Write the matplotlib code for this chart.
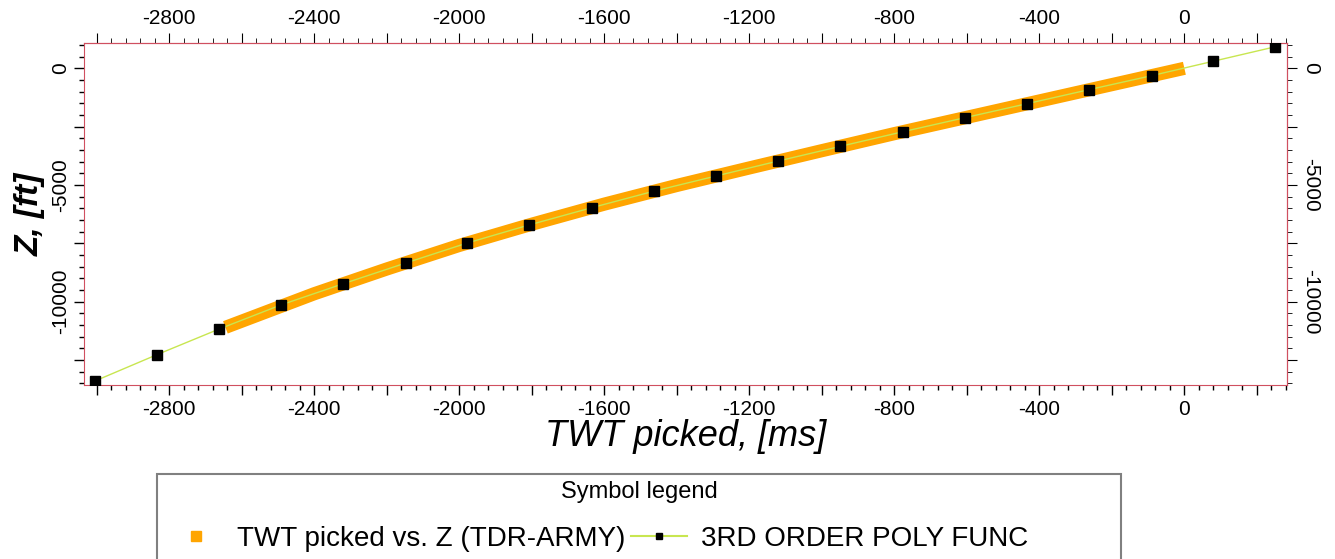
import matplotlib.pyplot as plt
from matplotlib.ticker import MultipleLocator, FuncFormatter
from matplotlib.patches import Rectangle
from matplotlib.lines import Line2D

plt.rcParams['font.family'] = ['Liberation Sans', 'DejaVu Sans']

# picked TWT vs Z (orange band)
twt_picked = [0, -200, -400, -600, -800, -1000, -1200, -1400, -1600, -1800,
              -2000, -2200, -2400, -2645]
z_picked = [0, -700, -1400, -2100, -2800, -3530, -4270, -5020, -5820, -6680,
            -7590, -8600, -9660, -11100]

# 3rd order poly function samples (black squares)
twt_poly = [-3005, -2833, -2662, -2492, -2320, -2148, -1979, -1808, -1635, -1462,
            -1292, -1121, -949, -777, -605, -435, -263, -90, 79, 250]
z_poly = [-13400, -12265, -11170, -10140, -9230, -8345, -7490, -6715, -5975, -5260,
          -4615, -3975, -3345, -2720, -2115, -1520, -915, -315, 300, 920]

W, H = 1335, 559
XMIN, XMAX = -3035, 283
YMIN, YMAX = -13570, 1084

fig = plt.figure(figsize=(W / 100, H / 100), dpi=100)
ax = fig.add_axes([84 / W, 1 - 385 / H, (1287 - 84) / W, (385 - 43) / H])

orange = '#ffa500'
lime = '#c8e650'
spine_col = '#d05060'

ax.plot(twt_picked, z_picked, color=orange, lw=9.5, solid_capstyle='butt', zorder=2)
ax.plot(twt_poly, z_poly, color=lime, lw=1, marker='s', ms=6.5,
        mfc='black', mec='black', zorder=3)

ax.set_xlim(XMIN, XMAX)
ax.set_ylim(YMIN, YMAX)

def xfmt(v, pos):
    v = int(round(v))
    if v < XMIN or v > XMAX:
        return ''
    return str(v) if v % 400 == 0 else ''

def yfmt(v, pos):
    v = int(round(v))
    if v < YMIN or v > YMAX:
        return ''
    return str(v) if v % 5000 == 0 else ''

for s in ax.spines.values():
    s.set_color(spine_col)

ax.xaxis.set_major_locator(MultipleLocator(200))
ax.xaxis.set_minor_locator(MultipleLocator(40))
ax.xaxis.set_major_formatter(FuncFormatter(xfmt))
ax.yaxis.set_major_locator(MultipleLocator(2500))
ax.yaxis.set_minor_locator(MultipleLocator(500))
ax.yaxis.set_major_formatter(FuncFormatter(yfmt))
ax.tick_params(which='both', direction='out', color='black', width=1, labelsize=15)
ax.tick_params(which='major', length=7)
ax.tick_params(which='minor', length=3.5)
ax.tick_params(axis='x', pad=4)
ax.tick_params(axis='y', labelrotation=90, pad=3)
for lab in ax.get_yticklabels():
    lab.set_va('center')

# top and right duplicate axes
top = ax.secondary_xaxis('top')
top.xaxis.set_major_locator(MultipleLocator(200))
top.xaxis.set_minor_locator(MultipleLocator(40))
top.xaxis.set_major_formatter(FuncFormatter(xfmt))
top.tick_params(which='both', direction='out', color='black', labelsize=15)
top.tick_params(which='major', length=7)
top.tick_params(which='minor', length=3.5)
top.spines['top'].set_color(spine_col)

right = ax.secondary_yaxis('right')
right.yaxis.set_major_locator(MultipleLocator(2500))
right.yaxis.set_minor_locator(MultipleLocator(500))
right.yaxis.set_major_formatter(FuncFormatter(yfmt))
right.tick_params(which='both', direction='out', color='black', labelsize=15)
right.tick_params(which='major', length=7)
right.tick_params(which='minor', length=3.5)
right.tick_params(axis='y', labelrotation=-90, pad=3)
right.spines['right'].set_color(spine_col)
for lab in right.get_yticklabels():
    lab.set_va('center')

ax.set_xlabel('TWT picked, [ms]', fontsize=26, style='italic', labelpad=0)
ax.set_ylabel('Z, [ft]', fontsize=24, style='italic', fontweight='bold', labelpad=4)

# legend box
fig.patches.append(Rectangle((157 / W, -0.05), (1121 - 157) / W, (559 - 474) / H + 0.05,
                             transform=fig.transFigure, fill=False,
                             edgecolor='#808080', lw=1.5))
fig.text(639 / W, 1 - 492 / H, 'Symbol legend', ha='center', va='center', fontsize=17)
handles = [Line2D([], [], ls='none', marker='s', ms=7, color=orange),
           Line2D([], [], color=lime, lw=1.5, marker='s', ms=4, mfc='black', mec='black')]
labels = ['TWT picked vs. Z (TDR-ARMY)', '3RD ORDER POLY FUNC']
leg = fig.legend(handles, labels, ncol=2, frameon=False, fontsize=20,
                 loc='center left', bbox_to_anchor=(168 / W, 1 - 539 / H),
                 handlelength=2.0, handletextpad=0.5, columnspacing=0.2,
                 borderaxespad=0, borderpad=0)

fig.savefig('out.png', dpi=100)
